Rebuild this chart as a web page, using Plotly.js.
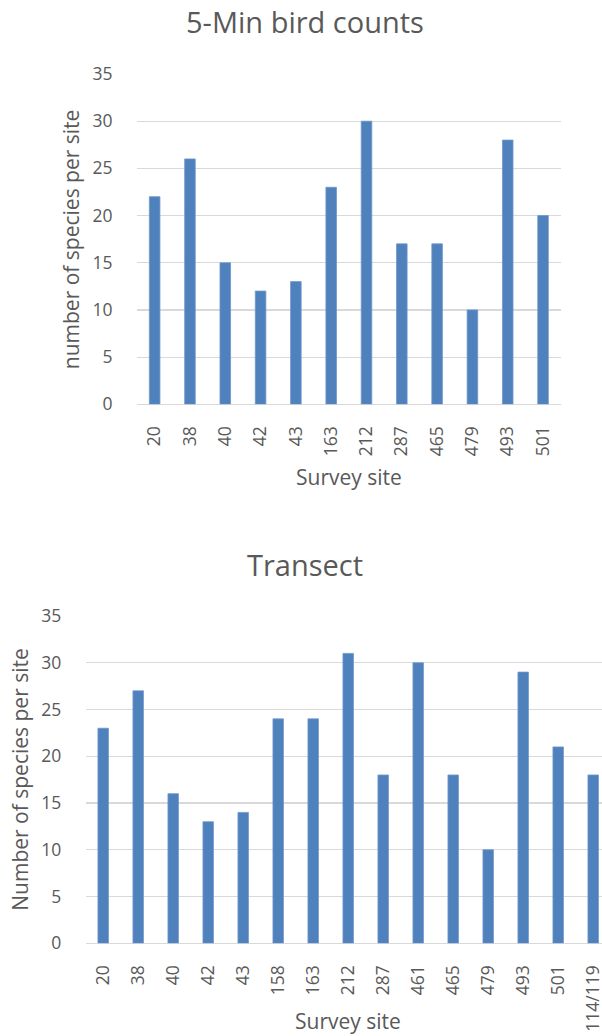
<!DOCTYPE html>
<html>
<head>
<meta charset="utf-8">
<script src="https://cdn.plot.ly/plotly-3.0.1.min.js"></script>
<style>
  html, body { margin: 0; padding: 0; overflow: hidden; background: #ffffff; }
  #chart { width: 640px; height: 1036px; }
</style>
</head>
<body>
<div id="chart"></div>
<script>
// ---- Data ----
const sitesFiveMin = ['20','38','40','42','43','163','212','287','465','479','493','501'];
const countsFiveMin = [22, 26, 15, 12, 13, 23, 30, 17, 17, 10, 28, 20];

const sitesTransect = ['20','38','40','42','43','158','163','212','287','461','465','479','493','501','114/119'];
const countsTransect = [23, 27, 16, 13, 14, 24, 24, 31, 18, 30, 18, 10, 29, 21, 18];

const titleTop = '5-Min bird counts';
const titleBottom = 'Transect';
const xTitle = 'Survey site';
const yTitleTop = 'number of species per site';
const yTitleBottom = 'Number of species per site';

// ---- Layout helpers ----
const W = 640, H = 1036;
const px = x => x / W;
const py = y => 1 - y / H;

const FONT = 'Open Sans, Lato, sans-serif';
const GRAY = '#595959';
const BAR = '#4F81BD';

const barTrace = (x, y, xa, ya) => ({
  type: 'bar', x: x, y: y, xaxis: xa, yaxis: ya,
  marker: { color: BAR, line: { color: '#7097CB', width: 0.8 } },
  hoverinfo: 'x+y', showlegend: false
});

const xAxisBase = (domain, anchor) => ({
  type: 'category', domain: domain, anchor: anchor,
  tickangle: -90, ticks: 'outside', ticklen: 14, tickcolor: 'rgba(0,0,0,0)',
  tickfont: { family: FONT, size: 17.5, color: GRAY },
  showgrid: false, zeroline: false, showline: false, fixedrange: true
});

const yAxisBase = (domain, anchor) => ({
  domain: domain, anchor: anchor, range: [0, 35], dtick: 5, tick0: 0,
  ticks: 'outside', ticklen: 20, tickcolor: 'rgba(0,0,0,0)',
  tickfont: { family: FONT, size: 17.5, color: GRAY },
  showgrid: true, gridcolor: '#D9D9D9', gridwidth: 1.2,
  zeroline: true, zerolinecolor: '#D9D9D9', zerolinewidth: 1.5,
  showline: false, fixedrange: true
});

const ann = (text, x, y, size, angle) => ({
  text: text, xref: 'paper', yref: 'paper', x: px(x), y: py(y),
  xanchor: 'center', yanchor: 'middle', showarrow: false, textangle: angle || 0,
  font: { family: FONT, size: size, color: GRAY }
});

const data = [
  barTrace(sitesFiveMin, countsFiveMin, 'x', 'y'),
  barTrace(sitesTransect, countsTransect, 'x2', 'y2')
];

const layout = {
  width: W, height: H,
  margin: { l: 0, r: 0, t: 0, b: 0 },
  paper_bgcolor: '#ffffff', plot_bgcolor: '#ffffff',
  bargap: 0.7,
  font: { family: FONT, color: GRAY },
  xaxis: xAxisBase([px(137), px(560.7)], 'y'),
  yaxis: yAxisBase([py(404.3), py(74)], 'x'),
  xaxis2: xAxisBase([px(85.7), px(610.7)], 'y2'),
  yaxis2: yAxisBase([py(943.3), py(616)], 'x2'),
  annotations: [
    ann(titleTop, 305, 22, 29),
    ann(xTitle, 348.5, 477, 21),
    ann(yTitleTop, 71, 239.2, 21, -90),
    ann(titleBottom, 305, 564, 29),
    ann(xTitle, 348.2, 1021, 21),
    ann(yTitleBottom, 20, 779.7, 21, -90)
  ]
};

Plotly.newPlot('chart', data, layout, { displayModeBar: false, staticPlot: true });
</script>
</body>
</html>
